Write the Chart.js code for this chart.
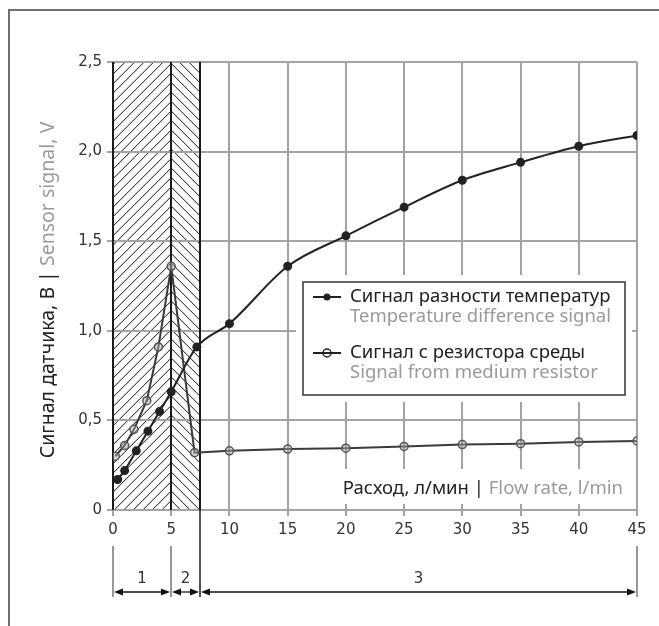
<!DOCTYPE html>
<html>
<head>
<meta charset="utf-8">
<script src="https://cdn.jsdelivr.net/npm/chart.js"></script>
<style>
html, body { margin: 0; padding: 0; background: #fff; }
</style>
</head>
<body>
<canvas id="sensorChart" width="659" height="626"></canvas>
<script>
// values
const flowTemp = [0.4, 1, 2, 3, 4, 5, 7.2, 10, 15, 20, 25, 30, 35, 40, 45];
const signalTemp = [0.17, 0.22, 0.33, 0.44, 0.55, 0.66, 0.91, 1.04, 1.36, 1.53, 1.69, 1.84, 1.94, 2.03, 2.09];
const flowMedium = [0.2, 1, 1.8, 2.9, 3.9, 5, 7, 10, 15, 20, 25, 30, 35, 40, 45];
const signalMedium = [0.3, 0.36, 0.45, 0.61, 0.91, 1.36, 0.32, 0.33, 0.34, 0.345, 0.355, 0.365, 0.37, 0.38, 0.385];

const xTicks = [0, 5, 10, 15, 20, 25, 30, 35, 40, 45];
const xTickLabels = ['0', '5', '10', '15', '20', '25', '30', '35', '40', '45'];
const yTicks = [0, 0.5, 1, 1.5, 2, 2.5];
const yTickLabels = ['0', '0,5', '1,0', '1,5', '2,0', '2,5'];

const zoneEdges = [0, 5, 7.5, 45];
const zoneLabels = ['1', '2', '3'];

const legendRu = ['Сигнал разности температур', 'Сигнал с резистора среды'];
const legendEn = ['Temperature difference signal', 'Signal from medium resistor'];
const xTitle = ['Расход, л/мин | ', 'Flow rate, l/min'];
const yTitle = ['Сигнал датчика, В | ', 'Sensor signal, V'];

const DARK = '#222';
const GREY_TXT = '#9a9a9a';
const TXT_FONT = '18.5px "Noto Sans"';
const YTITLE_FONT = '19.5px "Noto Sans"';
const NUM_FONT = '15px "DejaVu Sans"';

function hatch(ctx, x0, x1, top, bottom, dir, anchorX, step) {
    const h = bottom - top;
    ctx.save();
    ctx.beginPath();
    ctx.rect(x0, top, x1 - x0, h);
    ctx.clip();
    ctx.beginPath();
    for (let k = -80; k < 120; k++) {
        if (dir > 0) {
            const s = anchorX - k * step;
            ctx.moveTo(s, bottom);
            ctx.lineTo(s + h, top);
        } else {
            const s = anchorX - h + k * step;
            ctx.moveTo(s, top);
            ctx.lineTo(s + h, bottom);
        }
    }
    ctx.strokeStyle = '#111';
    ctx.lineWidth = 1;
    ctx.stroke();
    ctx.restore();
}

function arrowHead(ctx, x, y, dir) {
    ctx.beginPath();
    ctx.moveTo(x, y);
    ctx.lineTo(x - dir * 9, y - 3.5);
    ctx.lineTo(x - dir * 9, y + 3.5);
    ctx.closePath();
    ctx.fill();
}

function twoToneText(ctx, parts, x, y, align, font) {
    ctx.font = font || TXT_FONT;
    const w0 = ctx.measureText(parts[0]).width;
    const w1 = ctx.measureText(parts[1]).width;
    let start = x;
    if (align === 'right') start = x - w0 - w1;
    if (align === 'center') start = x - (w0 + w1) / 2;
    ctx.textAlign = 'left';
    ctx.textBaseline = 'middle';
    ctx.fillStyle = DARK;
    ctx.fillText(parts[0], start, y);
    ctx.fillStyle = GREY_TXT;
    ctx.fillText(parts[1], start + w0, y);
}

const zonePlugin = {
    id: 'zones',
    beforeDraw(chart) {
        const { ctx, chartArea: a, scales: { x } } = chart;
        ctx.save();
        ctx.fillStyle = '#fff';
        ctx.fillRect(0, 0, chart.width, chart.height);
        // outer frame (cut at right and bottom)
        ctx.strokeStyle = '#707070';
        ctx.lineWidth = 2;
        ctx.beginPath();
        ctx.moveTo(9, chart.height);
        ctx.lineTo(9, 10);
        ctx.lineTo(chart.width, 10);
        ctx.stroke();
        const p0 = x.getPixelForValue(zoneEdges[0]);
        const p1 = x.getPixelForValue(zoneEdges[1]);
        const p2 = x.getPixelForValue(zoneEdges[2]);
        hatch(ctx, p0, p1, a.top, a.bottom, 1, p1, 9.5);
        hatch(ctx, p1, p2, a.top, a.bottom, -1, p1, 9.5);
        ctx.restore();
    },
    beforeDatasetsDraw(chart) {
        const { ctx, chartArea: a, scales: { x } } = chart;
        ctx.save();
        ctx.strokeStyle = '#1a1a1a';
        ctx.lineWidth = 2;
        for (let i = 0; i < 3; i++) {
            const px = Math.round(x.getPixelForValue(zoneEdges[i]));
            ctx.beginPath();
            ctx.moveTo(px, a.top);
            ctx.lineTo(px, a.bottom);
            ctx.stroke();
        }
        ctx.restore();
    },
    afterDraw(chart) {
        const { ctx, chartArea: a, scales: { x } } = chart;
        ctx.save();

        // legend
        const lx = 303, ly = 282, lw = 322, lh = 113;
        ctx.fillStyle = '#fff';
        ctx.fillRect(lx - 7, ly - 7, lw + 14, lh + 14);
        ctx.strokeStyle = '#333';
        ctx.lineWidth = 1.5;
        ctx.strokeRect(lx, ly, lw, lh);
        const rows = [297, 353];
        for (let i = 0; i < 2; i++) {
            const y = rows[i];
            ctx.strokeStyle = DARK;
            ctx.lineWidth = 2;
            ctx.beginPath();
            ctx.moveTo(313, y);
            ctx.lineTo(341, y);
            ctx.stroke();
            ctx.beginPath();
            ctx.arc(327, y, i === 0 ? 3.5 : 4, 0, Math.PI * 2);
            if (i === 0) {
                ctx.fillStyle = DARK;
                ctx.fill();
            } else {
                ctx.lineWidth = 1.5;
                ctx.stroke();
            }
            ctx.font = TXT_FONT;
            ctx.textAlign = 'left';
            ctx.textBaseline = 'middle';
            ctx.fillStyle = DARK;
            ctx.fillText(legendRu[i], 350, y);
            ctx.fillStyle = GREY_TXT;
            ctx.fillText(legendEn[i], 350, y + 20);
        }

        // x title with white backing
        ctx.font = TXT_FONT;
        const tw = ctx.measureText(xTitle[0] + xTitle[1]).width;
        ctx.fillStyle = '#fff';
        ctx.fillRect(623 - tw - 5, 469, tw + 9, 35);
        twoToneText(ctx, xTitle, 623, 489, 'right');

        // y title
        ctx.save();
        ctx.translate(48, (a.top + a.bottom) / 2 + 4);
        ctx.rotate(-Math.PI / 2);
        twoToneText(ctx, yTitle, 0, 0, 'center', YTITLE_FONT);
        ctx.restore();

        // dimension lines under the axis
        const yArrow = 592, yLab = 579, extTop = 546, extBottom = 597;
        const px = zoneEdges.map(v => Math.round(x.getPixelForValue(v)));
        ctx.lineWidth = 1.5;
        px.forEach((p, i) => {
            ctx.strokeStyle = i === 2 ? '#1a1a1a' : '#777';
            ctx.beginPath();
            ctx.moveTo(p, i === 2 ? a.bottom : extTop);
            ctx.lineTo(p, extBottom);
            ctx.stroke();
        });
        ctx.strokeStyle = '#111';
        ctx.fillStyle = '#111';
        ctx.lineWidth = 1.3;
        for (let i = 0; i < 3; i++) {
            const xa = px[i] + 1, xb = px[i + 1] - 1;
            ctx.beginPath();
            ctx.moveTo(xa + 4, yArrow);
            ctx.lineTo(xb - 4, yArrow);
            ctx.stroke();
            arrowHead(ctx, xa, yArrow, -1);
            arrowHead(ctx, xb, yArrow, 1);
            ctx.font = NUM_FONT;
            ctx.textAlign = 'center';
            ctx.textBaseline = 'middle';
            ctx.fillStyle = '#333';
            ctx.fillText(zoneLabels[i], (px[i] + px[i + 1]) / 2, yLab);
            ctx.fillStyle = '#111';
        }
        ctx.restore();
    }
};

const ctx = document.getElementById('sensorChart').getContext('2d');
new Chart(ctx, {
    type: 'scatter',
    data: {
        datasets: [{
            label: legendRu[0],
            data: flowTemp.map((v, i) => ({ x: v, y: signalTemp[i] })),
            showLine: true,
            borderColor: DARK,
            borderWidth: 2,
            pointRadius: 3.5,
            pointBackgroundColor: DARK,
            pointBorderColor: DARK,
            cubicInterpolationMode: 'monotone'
        }, {
            label: legendRu[1],
            data: flowMedium.map((v, i) => ({ x: v, y: signalMedium[i] })),
            showLine: true,
            borderColor: '#3a3a3a',
            borderWidth: 2,
            pointRadius: 4,
            pointBorderWidth: 1.5,
            pointBackgroundColor: 'rgba(170,170,170,0.45)',
            pointBorderColor: '#555',
            tension: 0
        }]
    },
    options: {
        responsive: false,
        animation: false,
        layout: { padding: { left: 0, right: 22, top: 62, bottom: 76 } },
        plugins: {
            legend: { display: false },
            tooltip: { enabled: false }
        },
        scales: {
            x: {
                type: 'linear',
                min: 0,
                max: 45,
                afterBuildTicks: s => { s.ticks = xTicks.map(v => ({ value: v })); },
                afterFit: s => { s.height = 40; },
                grid: { color: '#a3a3a3', lineWidth: 2, tickLength: 6 },
                border: { display: false },
                ticks: {
                    font: { family: 'DejaVu Sans', size: 15 },
                    color: '#333',
                    padding: 5,
                    maxRotation: 0,
                    callback: (v, i) => xTickLabels[i]
                }
            },
            y: {
                min: 0,
                max: 2.5,
                afterBuildTicks: s => { s.ticks = yTicks.map(v => ({ value: v })); },
                afterFit: s => { s.width = 113; },
                grid: { color: '#a3a3a3', lineWidth: 2, tickLength: 6 },
                border: { display: false },
                ticks: {
                    font: { family: 'DejaVu Sans', size: 15 },
                    color: '#333',
                    padding: 5,
                    callback: (v, i) => yTickLabels[i]
                }
            }
        }
    },
    plugins: [zonePlugin]
});
</script>
</body>
</html>
